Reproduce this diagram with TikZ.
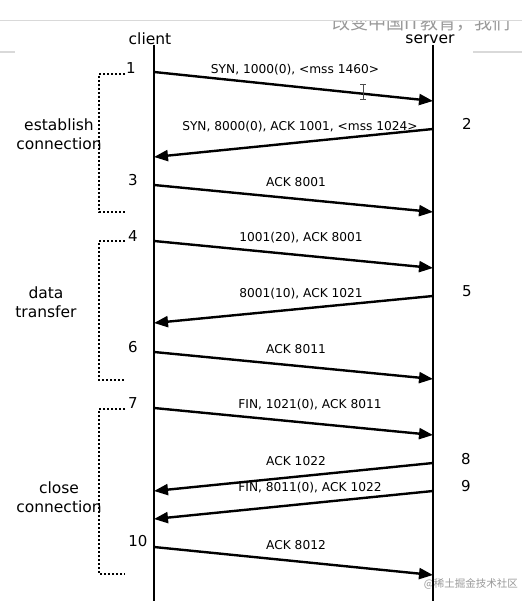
\documentclass[tikz,border=0pt]{standalone}
\usepackage{fontspec}
\setmainfont{DejaVu Sans}
\newfontfamily\cjkfont{Noto Sans CJK SC}
\usetikzlibrary{arrows.meta}
\begin{document}
\begin{tikzpicture}[x=1pt,y=-1pt,
  lifeline/.style={line width=2.4pt},
  msg/.style={line width=2.4pt,-{Triangle[length=14pt,width=11pt]}},
  msglabel/.style={font=\fontsize{12.2}{13}\selectfont,inner sep=0pt},
  numlabel/.style={font=\fontsize{15}{16}\selectfont,inner sep=0pt},
  phase/.style={font=\fontsize{15.5}{19}\selectfont,inner sep=0pt,align=center},
  bracket/.style={line width=2pt,dash pattern=on 2pt off 2pt},
  head/.style={font=\fontsize{15.5}{16}\selectfont,inner sep=0pt},
  screen/.style={draw=black!15,line width=1.5pt}]
\useasboundingbox (0,0) rectangle (522,601);
\fill[white] (0,0) rectangle (522,601);

% screenshot residue
\draw[screen] (0,20.5) -- (522,20.5);
\draw[screen] (0,52) -- (15,52);
\draw[screen] (473,52) -- (522,52);
\begin{scope}
  \clip (320,21.5) rectangle (522,40);
  \node[anchor=west,text=black!40,inner sep=0pt,font=\cjkfont\fontsize{18}{18}\selectfont] (slogan) at (332,23) {改变中国IT教育，我们};
\end{scope}
\node[anchor=east,text=black!40,inner sep=0pt,font=\cjkfont\fontsize{10.5}{11}\selectfont] (wm) at (518,584) {@稀土掘金技术社区};

% heads and lifelines
\node[head] (client) at (150,39) {client};
\node[head] (server) at (430,39) {server};
\coordinate (ctop) at (154,45);
\coordinate (cbot) at (154,601);
\coordinate (stop) at (433,45);
\coordinate (sbot) at (433,601);
\draw[lifeline] (ctop) -- (cbot);
\draw[lifeline] (stop) -- (sbot);

% message endpoints
\coordinate (a1) at (154,72);  \coordinate (b1) at (433,101);
\coordinate (a2) at (433,129); \coordinate (b2) at (154,157);
\coordinate (a3) at (154,185); \coordinate (b3) at (433,212);
\coordinate (a4) at (154,241); \coordinate (b4) at (433,268);
\coordinate (a5) at (433,296); \coordinate (b5) at (154,323);
\coordinate (a6) at (154,352); \coordinate (b6) at (433,379);
\coordinate (a7) at (154,408); \coordinate (b7) at (433,435);
\coordinate (a8) at (433,463); \coordinate (b8) at (154,491);
\coordinate (a9) at (433,491); \coordinate (b9) at (154,519);
\coordinate (a10) at (154,547); \coordinate (b10) at (433,575);

\foreach \i in {1,...,10} { \draw[msg] (a\i) -- (b\i); }

% message labels
\node[msglabel] (m1) at (295,70) {SYN, 1000(0), <mss 1460>};
\node[msglabel] (m2) at (300,127) {SYN, 8000(0), ACK 1001, <mss 1024>};
\node[msglabel] (m3) at (296,182) {ACK 8001};
\node[msglabel] (m4) at (301,238) {1001(20), ACK 8001};
\node[msglabel] (m5) at (301,294) {8001(10), ACK 1021};
\node[msglabel] (m6) at (296,349) {ACK 8011};
\node[msglabel] (m7) at (310,405) {FIN, 1021(0), ACK 8011};
\node[msglabel] (m8) at (296,461) {ACK 1022};
\node[msglabel] (m9) at (310,488) {FIN, 8011(0), ACK 1022};
\node[msglabel] (m10) at (296,545) {ACK 8012};

% step numbers
\node[numlabel] (n1) at (131,68) {1};
\node[numlabel] (n2) at (467,124) {2};
\node[numlabel] (n3) at (133,180) {3};
\node[numlabel] (n4) at (133,236) {4};
\node[numlabel] (n5) at (467,291) {5};
\node[numlabel] (n6) at (133,347) {6};
\node[numlabel] (n7) at (133,403) {7};
\node[numlabel] (n8) at (466,459) {8};
\node[numlabel] (n9) at (466,486) {9};
\node[numlabel] (n10) at (138,541) {10};

% phase brackets
\draw[bracket] (125,74) -- (99,74) -- (99,212) -- (125,212);
\draw[bracket] (125,241) -- (99,241) -- (99,380) -- (125,380);
\draw[bracket] (125,409) -- (99,409) -- (99,574) -- (125,574);

\node[phase] (p1) at (59,134) {establish\\connection};
\node[phase] (p2) at (46,302) {data\\transfer};
\node[phase] (p3) at (59,497) {close\\connection};

% text cursor
\draw[line width=1pt,black!70] (363,85) -- (363,99)
  (360,84.5) -- (366,84.5) (360,99.5) -- (366,99.5);
\end{tikzpicture}
\end{document}
